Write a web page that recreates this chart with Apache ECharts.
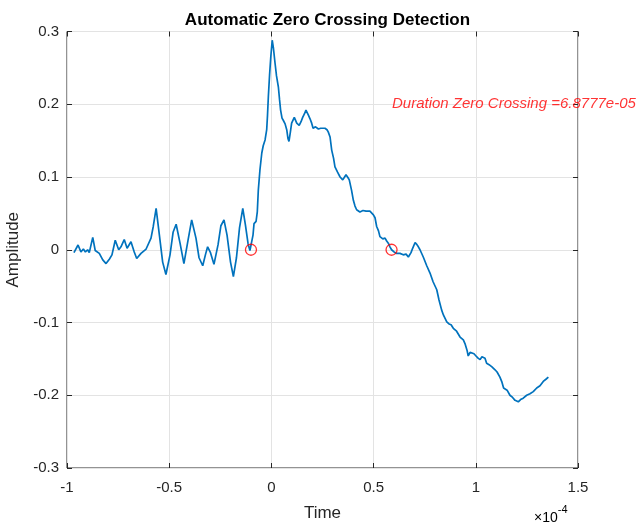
<!DOCTYPE html>
<html>
<head>
<meta charset="utf-8">
<script src="https://cdn.jsdelivr.net/npm/echarts@6/dist/echarts.min.js"></script>
<style>
  html, body { margin: 0; padding: 0; background: #fff; }
  #chart { width: 640px; height: 526px; }
</style>
</head>
<body>
<div id="chart"></div>
<script>
// time in units of 1e-4 s (axis shows x10^-4)
const timeVals = [
  -0.966, -0.946, -0.932, -0.920, -0.910, -0.899, -0.891, -0.874, -0.862, -0.842,
  -0.825, -0.809, -0.793, -0.780, -0.764, -0.747, -0.736, -0.720, -0.706, -0.687,
  -0.671, -0.659, -0.638, -0.613, -0.589, -0.578, -0.564, -0.548, -0.532, -0.516,
  -0.496, -0.481, -0.466, -0.447, -0.428, -0.408, -0.390, -0.369, -0.354, -0.336,
  -0.322, -0.312, -0.298, -0.281, -0.261, -0.247, -0.232, -0.217, -0.200, -0.186,
  -0.171, -0.156, -0.140, -0.127, -0.114, -0.105, -0.100, -0.090, -0.085, -0.075,
  -0.069, -0.064, -0.056, -0.047, -0.040, -0.031, -0.023, -0.019, -0.015, -0.009,
  -0.003, 0.004, 0.010, 0.018, 0.025, 0.034, 0.040, 0.045, 0.052, 0.058,
  0.067, 0.075, 0.081, 0.086, 0.093, 0.099, 0.112, 0.124, 0.136, 0.145,
  0.153, 0.162, 0.169, 0.181, 0.189, 0.197, 0.204, 0.208, 0.216, 0.222,
  0.230, 0.241, 0.250, 0.262, 0.272, 0.278, 0.287, 0.295, 0.304, 0.311,
  0.323, 0.336, 0.349, 0.358, 0.365, 0.375, 0.381, 0.392, 0.401, 0.409,
  0.417, 0.433, 0.448, 0.463, 0.482, 0.499, 0.507, 0.515, 0.524, 0.531,
  0.545, 0.556, 0.564, 0.572, 0.580, 0.588, 0.600, 0.613, 0.629, 0.645,
  0.659, 0.670, 0.676, 0.683, 0.691, 0.703, 0.712, 0.719, 0.727, 0.743,
  0.760, 0.776, 0.791, 0.809, 0.820, 0.833, 0.842, 0.858, 0.869, 0.879,
  0.890, 0.906, 0.923, 0.939, 0.947, 0.957, 0.963, 0.972, 0.980, 0.991,
  1.001, 1.011, 1.021, 1.030, 1.037, 1.045, 1.053, 1.065, 1.079, 1.094,
  1.104, 1.118, 1.128, 1.136, 1.143, 1.153, 1.167, 1.180, 1.192, 1.208,
  1.219, 1.232, 1.249, 1.265, 1.281, 1.298, 1.314, 1.330, 1.343, 1.355
]
const amplitude = [
  -0.004, 0.0065, -0.003, 0.001, -0.003, 0.000, -0.004, 0.017, -0.001, -0.005,
  -0.014, -0.019, -0.013, -0.007, 0.013, 0.000, 0.004, 0.014, 0.002, 0.011,
  -0.003, -0.012, -0.005, 0.001, 0.016, 0.032, 0.057, 0.020, -0.017, -0.034,
  -0.007, 0.024, 0.035, 0.009, -0.019, 0.013, 0.041, 0.016, -0.011, -0.022,
  -0.006, 0.004, -0.004, -0.020, 0.007, 0.033, 0.041, 0.020, -0.017, -0.037,
  -0.011, 0.030, 0.057, 0.034, 0.008, -0.001, 0.000, 0.020, 0.036, 0.039,
  0.052, 0.082, 0.110, 0.133, 0.143, 0.151, 0.165, 0.185, 0.210, 0.240,
  0.265, 0.288, 0.277, 0.256, 0.239, 0.224, 0.206, 0.192, 0.181, 0.178,
  0.173, 0.165, 0.153, 0.149, 0.162, 0.174, 0.182, 0.174, 0.171, 0.176,
  0.182, 0.187, 0.192, 0.185, 0.180, 0.174, 0.167, 0.165, 0.169, 0.168,
  0.166, 0.167, 0.169, 0.167, 0.165, 0.162, 0.155, 0.137, 0.126, 0.114,
  0.107, 0.100, 0.096, 0.100, 0.103, 0.099, 0.096, 0.082, 0.068, 0.060,
  0.055, 0.052, 0.054, 0.053, 0.053, 0.048, 0.044, 0.032, 0.026, 0.018,
  0.015, 0.016, 0.012, 0.009, 0.004, 0.000, -0.003, -0.005, -0.005, -0.007,
  -0.006, -0.010, -0.011, -0.004, 0.002, 0.010, 0.007, 0.004, 0.000, -0.010,
  -0.022, -0.032, -0.044, -0.055, -0.069, -0.083, -0.090, -0.099, -0.102, -0.103,
  -0.108, -0.112, -0.120, -0.124, -0.129, -0.138, -0.146, -0.141, -0.140, -0.143,
  -0.146, -0.149, -0.151, -0.147, -0.145, -0.149, -0.156, -0.158, -0.161, -0.165,
  -0.168, -0.175, -0.182, -0.190, -0.192, -0.193, -0.200, -0.203, -0.207, -0.209,
  -0.206, -0.204, -0.200, -0.198, -0.195, -0.190, -0.187, -0.181, -0.178, -0.175
]
// detected zero crossings (1e-4 s)
const crossTimes = [-0.1, 0.5878]
const durationLabel = 'Duration Zero Crossing =6.8777e-05'
const labelPos = [0.59, 0.2]

const xTicks = { min: -1, max: 1.5, interval: 0.5 }
const yTicks = { min: -0.3, max: 0.3, interval: 0.1 }

const fontFamily = '"Liberation Sans", Arial, sans-serif'
const chart = echarts.init(document.getElementById('chart'))

const signal = timeVals.map((t, i) => [t, amplitude[i]])
const crossings = crossTimes.map(t => [t, 0])

const axisBase = {
  type: 'value',
  axisLine: { show: false, onZero: false },
  axisTick: { show: true, inside: true, length: 5, lineStyle: { color: '#262626' } },
  splitLine: { show: true, lineStyle: { color: '#e3e3e3', width: 1 } }
}

const option = {
  backgroundColor: '#fff',
  animation: false,
  title: {
    text: 'Automatic Zero Crossing Detection',
    left: 322.5,
    top: 7,
    textAlign: 'center',
    textStyle: { fontFamily, fontSize: 17, fontWeight: 'bold', color: '#000' }
  },
  grid: {
    left: 67,
    right: 62,
    top: 31.5,
    bottom: 58,
    outerBoundsMode: 'none',
    show: true,
    borderColor: '#262626',
    borderWidth: 1
  },
  xAxis: [
    Object.assign({}, axisBase, {
      min: xTicks.min, max: xTicks.max, interval: xTicks.interval,
      position: 'bottom',
      name: 'Time',
      nameLocation: 'middle',
      nameGap: 37,
      nameTextStyle: { fontFamily, fontSize: 17, color: '#262626' },
      axisLabel: { margin: 12, fontFamily, fontSize: 15, color: '#262626' }
    }),
    Object.assign({}, axisBase, {
      min: xTicks.min, max: xTicks.max, interval: xTicks.interval,
      position: 'top',
      axisLabel: { show: false },
      splitLine: { show: false }
    })
  ],
  yAxis: [
    Object.assign({}, axisBase, {
      min: yTicks.min, max: yTicks.max, interval: yTicks.interval,
      position: 'left',
      name: 'Amplitude',
      nameLocation: 'middle',
      nameGap: 38,
      nameTextStyle: { fontFamily, fontSize: 17, color: '#262626' },
      axisLabel: { margin: 8, fontFamily, fontSize: 15, color: '#262626' }
    }),
    Object.assign({}, axisBase, {
      min: yTicks.min, max: yTicks.max, interval: yTicks.interval,
      position: 'right',
      axisLabel: { show: false },
      splitLine: { show: false }
    })
  ],
  graphic: [
    {
      type: 'text',
      left: 534,
      top: 504,
      style: {
        text: '{a|×10}{b|-4}',
        rich: {
          a: { fontFamily, fontSize: 14, color: '#262626', padding: [7, 0, 0, 0] },
          b: { fontFamily, fontSize: 11, color: '#262626', verticalAlign: 'top' }
        }
      }
    }
  ],
  series: [
    {
      name: 'signal',
      type: 'line',
      data: signal,
      showSymbol: false,
      lineStyle: { color: '#0072BD', width: 1.7 },
      z: 3
    },
    {
      name: 'crossings',
      type: 'scatter',
      data: crossings,
      symbol: 'circle',
      symbolSize: 11,
      itemStyle: { color: 'rgba(0,0,0,0)', borderColor: '#FF0000', borderWidth: 1.3 },
      z: 4
    },
    {
      name: 'label',
      type: 'scatter',
      data: [labelPos],
      symbolSize: 0,
      silent: true,
      label: {
        show: true,
        position: 'right',
        distance: 0,
        formatter: durationLabel,
        fontFamily,
        fontSize: 15,
        fontStyle: 'italic',
        color: '#FF0000'
      },
      z: 5
    }
  ]
}

chart.setOption(option)
</script>
</body>
</html>
